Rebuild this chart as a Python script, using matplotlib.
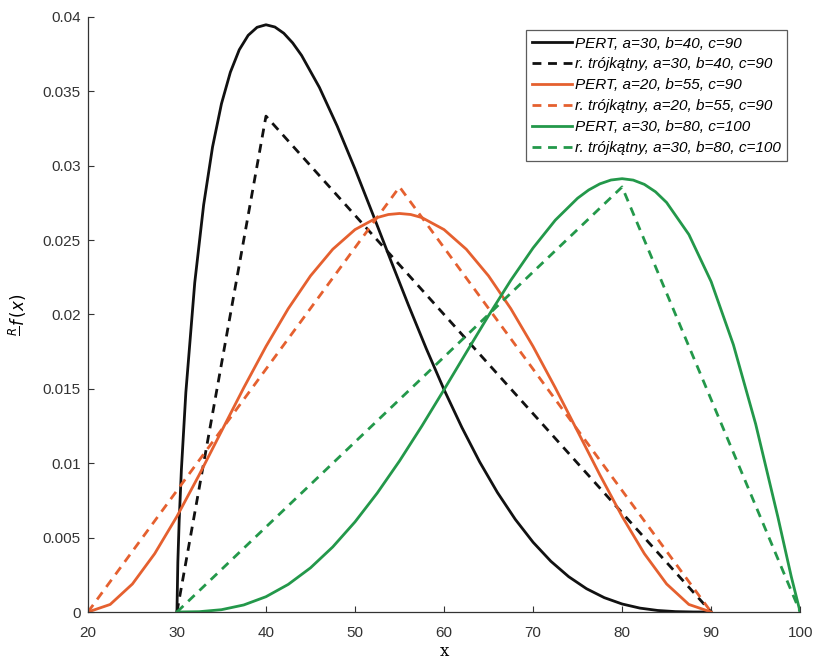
import matplotlib
matplotlib.use("Agg")
from matplotlib import pyplot as plt

# values
pert1_x = [30, 30.1, 30.25, 30.5, 31, 32, 33, 34, 35, 36, 37, 38, 39, 40, 41, 42, 43, 44,
           46, 48, 50, 52, 54, 56, 58, 60, 62, 64, 66, 68, 70, 72, 74, 76, 78, 80, 82,
           84, 86, 88, 90]
pert1_y = [0, 0.00334, 0.00611, 0.00957, 0.01476, 0.02214, 0.02737, 0.03126, 0.03416,
           0.03628, 0.03779, 0.03876, 0.03930, 0.03947, 0.03932, 0.03890, 0.03825,
           0.03741, 0.03526, 0.03266, 0.02978, 0.02674, 0.02366, 0.02063, 0.01771,
           0.01495, 0.01241, 0.01009, 0.00803, 0.00623, 0.00469, 0.00341, 0.002375,
           0.001568, 0.000965, 0.000540, 0.000263, 0.000104, 0.0000275, 0.0000028, 0]

pert2_x = [20, 22.5, 25, 27.5, 30, 32.5, 35, 37.5, 40, 42.5, 45, 47.5, 50, 52.5, 53.75,
           55, 56.25, 57.5, 60, 62.5, 65, 67.5, 70, 72.5, 75, 77.5, 80, 82.5, 85, 87.5, 90]
pert2_y = [0, 0.000508, 0.001885, 0.003922, 0.006426, 0.009221, 0.012149, 0.015067,
           0.017850, 0.020388, 0.022591, 0.024382, 0.025703, 0.026513, 0.026718,
           0.026786, 0.026718, 0.026513, 0.025703, 0.024382, 0.022591, 0.020388,
           0.017850, 0.015067, 0.012149, 0.009221, 0.006426, 0.003922, 0.001885,
           0.000508, 0]

pert3_x = [30, 32.5, 35, 37.5, 40, 42.5, 45, 47.5, 50, 52.5, 55, 57.5, 60, 62.5, 65,
           67.5, 70, 72.5, 75, 76.25, 77.5, 78.75, 80, 81.25, 82.5, 83.75, 85, 87.5, 90,
           92.5, 95, 97.5, 98.5, 99, 100]
pert3_y = [0, 0.0000225, 0.000156, 0.000474, 0.001029, 0.001856, 0.002968, 0.004374,
           0.006058, 0.007998, 0.010154, 0.012491, 0.014944, 0.017446, 0.019924,
           0.022297, 0.024468, 0.026340, 0.027812, 0.028367, 0.028777, 0.029035,
           0.029125, 0.029030, 0.028742, 0.028245, 0.027523, 0.025373, 0.022209,
           0.017966, 0.012641, 0.006378, 0.003711, 0.002384, 0]

tri1_x = [30, 40, 90]
tri1_y = [0, 0.03333, 0]
tri2_x = [20, 55, 90]
tri2_y = [0, 0.02857, 0]
tri3_x = [30, 80, 100]
tri3_y = [0, 0.02857, 0]

labels = [
    "PERT, a=30, b=40, c=90",
    "r. trójkątny, a=30, b=40, c=90",
    "PERT, a=20, b=55, c=90",
    "r. trójkątny, a=20, b=55, c=90",
    "PERT, a=30, b=80, c=100",
    "r. trójkątny, a=30, b=80, c=100",
]

x_ticks = [20, 30, 40, 50, 60, 70, 80, 90, 100]
y_ticks = [0, 0.005, 0.01, 0.015, 0.02, 0.025, 0.03, 0.035, 0.04]
y_tick_labels = ["0", "0.005", "0.01", "0.015", "0.02", "0.025", "0.03", "0.035", "0.04"]

black = "#111111"
orange = "#E5602F"
green = "#23984A"


def main():
    plt.rcParams["font.family"] = ["Liberation Sans", "DejaVu Sans"]
    figure = plt.figure(figsize=(8.14, 6.62), dpi=100)
    ax = figure.add_axes([0.108, 0.0755, 0.875, 0.899])

    lw = 2.0
    dash = (0, (3.2, 2.4))
    ax.plot(pert1_x, pert1_y, color=black, lw=lw, label=labels[0])
    ax.plot(tri1_x, tri1_y, color=black, lw=lw, ls=dash, label=labels[1])
    ax.plot(pert2_x, pert2_y, color=orange, lw=lw, label=labels[2])
    ax.plot(tri2_x, tri2_y, color=orange, lw=lw, ls=dash, label=labels[3])
    ax.plot(pert3_x, pert3_y, color=green, lw=lw, label=labels[4])
    ax.plot(tri3_x, tri3_y, color=green, lw=lw, ls=dash, label=labels[5])

    ax.set_xlim(20, 100)
    ax.set_ylim(0, 0.04)
    ax.set_xticks(x_ticks)
    ax.set_yticks(y_ticks)
    ax.set_yticklabels(y_tick_labels)
    ax.tick_params(direction="in", length=4, labelsize=11, colors="#333333", pad=5)
    ax.tick_params(axis="x", pad=10)
    ax.spines["top"].set_visible(False)
    ax.spines["right"].set_visible(False)
    for s in ("left", "bottom"):
        ax.spines[s].set_color("#333333")
        ax.spines[s].set_linewidth(0.9)

    ax.set_xlabel("x", family="DejaVu Serif", fontsize=12, labelpad=2)
    ax.set_ylabel(r"$\frac{R}{\;}f\,(x)$", fontsize=12, labelpad=10)

    leg = ax.legend(loc="upper right", bbox_to_anchor=(0.988, 0.985),
                    prop={"style": "italic", "size": 11}, frameon=True, fancybox=False,
                    handlelength=2.6, handletextpad=0.2, labelspacing=0.45,
                    borderpad=0.4, borderaxespad=0.3)
    leg.get_frame().set_edgecolor("#333333")
    leg.get_frame().set_linewidth(0.9)
    return figure


if __name__ == "__main__":
    fig = main()
    fig.savefig("out.png", dpi=100)
